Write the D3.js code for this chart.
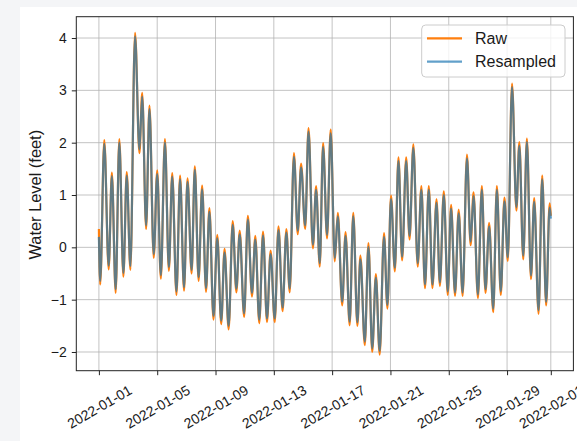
<!DOCTYPE html>
<html><head><meta charset="utf-8">
<script src="https://cdn.jsdelivr.net/npm/d3@7"></script>
<style>
html,body{margin:0;padding:0;background:#f4f5f7;}
svg{display:block;font-family:"Liberation Sans",Arial,Helvetica,sans-serif;}
</style></head><body>
<svg id="chart" width="577" height="441"></svg>
<script>
// ---- data ----
const startDate = "2022-01-01T00:00:00";
// time of each turning point, in days after startDate
const dayOffsets = [
 0.00, 0.09, 0.37, 0.67, 0.89, 1.15, 1.40, 1.68, 1.91, 2.16,
 2.48, 2.78, 2.97, 3.24, 3.47, 3.76, 4.00, 4.25, 4.53, 4.80,
 5.03, 5.32, 5.57, 5.84, 6.08, 6.36, 6.58, 6.84, 7.08, 7.35,
 7.58, 7.86, 8.12, 8.39, 8.62, 8.90, 9.18, 9.43, 9.66, 9.96,
 10.22, 10.50, 10.73, 11.00, 11.26, 11.53, 11.78, 12.06, 12.32, 12.60,
 12.86, 13.09, 13.38, 13.64, 13.87, 14.15, 14.38, 14.68, 14.90, 15.15,
 15.38, 15.65, 15.90, 16.18, 16.39, 16.69, 16.92, 17.20, 17.45, 17.73,
 17.94, 18.24, 18.49, 18.75, 19.00, 19.26, 19.56, 19.79, 20.04, 20.30,
 20.55, 20.80, 21.08, 21.31, 21.57, 21.87, 22.12, 22.37, 22.63, 22.88,
 23.16, 23.39, 23.66, 23.93, 24.16, 24.43, 24.68, 24.95, 25.25, 25.50,
 25.70, 26.00, 26.27, 26.52, 26.77, 27.05, 27.30, 27.57, 27.82, 28.05,
 28.34, 28.64, 28.84, 29.11, 29.36, 29.64, 29.86, 30.16, 30.41, 30.68,
 30.92, 31.00
];
const rawLevels = [
 0.35, -0.71, 2.05, -0.42, 1.43, -0.87, 2.07, -0.56, 1.44, -0.43,
 4.10, 1.80, 2.95, 0.35, 2.71, -0.20, 1.47, -0.60, 2.07, -0.45,
 1.42, -0.91, 1.37, -0.83, 1.32, -0.50, 1.55, -0.64, 1.18, -0.85,
 0.75, -1.38, 0.24, -1.47, -0.03, -1.57, 0.50, -0.86, 0.32, -1.33,
 0.60, -0.94, 0.22, -1.45, 0.30, -1.43, -0.06, -1.43, 0.40, -1.22,
 0.35, -0.86, 1.80, 0.25, 1.60, 0.35, 2.28, -0.02, 1.17, -0.37,
 1.99, 0.17, 2.25, -0.27, 0.66, -1.11, 0.29, -1.49, 0.66, -1.50,
 -0.16, -1.87, 0.08, -2.00, -0.51, -2.05, 0.27, -1.17, 0.99, -0.46,
 1.72, -0.25, 1.72, 0.15, 1.97, -0.37, 1.17, -0.78, 1.17, -0.78,
 0.92, -0.74, 1.07, -0.91, 0.81, -0.93, 0.72, -0.93, 1.77, 0.04,
 1.05, -0.97, 1.17, -0.87, 0.47, -1.24, 1.17, -0.91, 0.95, -0.26,
 3.13, 0.70, 2.01, -0.23, 2.08, -0.61, 0.94, -1.27, 1.37, -1.11,
 0.84, 0.60
];
const resampledLevels = [
 0.20, -0.64, 1.98, -0.35, 1.36, -0.80, 2.00, -0.49, 1.37, -0.36,
 4.03, 1.87, 2.88, 0.42, 2.64, -0.13, 1.40, -0.53, 2.00, -0.38,
 1.35, -0.84, 1.30, -0.76, 1.25, -0.43, 1.48, -0.57, 1.11, -0.78,
 0.68, -1.31, 0.17, -1.40, -0.10, -1.50, 0.43, -0.79, 0.25, -1.26,
 0.53, -0.87, 0.15, -1.38, 0.23, -1.36, -0.13, -1.36, 0.33, -1.15,
 0.28, -0.79, 1.73, 0.32, 1.53, 0.42, 2.21, 0.05, 1.10, -0.30,
 1.92, 0.24, 2.18, -0.20, 0.59, -1.04, 0.22, -1.42, 0.59, -1.43,
 -0.23, -1.80, 0.01, -1.93, -0.58, -1.98, 0.20, -1.10, 0.92, -0.39,
 1.65, -0.18, 1.65, 0.22, 1.90, -0.30, 1.10, -0.71, 1.10, -0.71,
 0.85, -0.67, 1.00, -0.84, 0.74, -0.86, 0.65, -0.86, 1.70, 0.11,
 0.98, -0.90, 1.10, -0.80, 0.40, -1.17, 1.10, -0.84, 0.88, -0.19,
 3.06, 0.77, 1.94, -0.16, 2.01, -0.54, 0.87, -1.20, 1.30, -1.04,
 0.76, 0.55
];
const yTickValues = [-2, -1, 0, 1, 2, 3, 4];
const xTickLabels = ["2022-01-01","2022-01-05","2022-01-09","2022-01-13","2022-01-17",
                     "2022-01-21","2022-01-25","2022-01-29","2022-02-01"];
const seriesNames = ["Raw", "Resampled"];
const seriesColors = ["#ff7f0e", "#1f77b4"];
const seriesOpacity = [1, 0.7];
const yLabel = "Water Level (feet)";

// ---- layout ----
const W = 577, H = 441;
const plot = {left: 76.3, right: 573.4, top: 16.7, bottom: 370.7};
const tickFont = 14;

const svg = d3.select("#chart");
svg.append("rect").attr("width", W).attr("height", H).attr("fill", "#f4f5f7");
svg.append("rect").attr("x", 20).attr("y", 7).attr("width", W - 20).attr("height", H - 7).attr("fill", "#ffffff");

const t0 = d3.timeParse("%Y-%m-%dT%H:%M:%S")(startDate);
const toDate = d => new Date(t0.getTime() + d * 86400000);
const times = dayOffsets.map(toDate);
const raw = times.map((t, i) => ({t, v: rawLevels[i]}));
const res = times.map((t, i) => ({t, v: resampledLevels[i]}));

const tExt = d3.extent(times);
const tPad = (tExt[1] - tExt[0]) * 0.05;
const x = d3.scaleTime()
  .domain([new Date(+tExt[0] - tPad), new Date(+tExt[1] + tPad)])
  .range([plot.left, plot.right]);
const vExt = d3.extent(rawLevels.concat(resampledLevels));
const vPad = (vExt[1] - vExt[0]) * 0.05;
const y = d3.scaleLinear().domain([vExt[0] - vPad, vExt[1] + vPad]).range([plot.bottom, plot.top]);

const xTicks = xTickLabels.map(s => d3.timeParse("%Y-%m-%d")(s));

// grid
const grid = svg.append("g");
grid.selectAll("line.gx").data(xTicks).join("line")
  .attr("x1", d => x(d)).attr("x2", d => x(d))
  .attr("y1", plot.top).attr("y2", plot.bottom)
  .attr("stroke", "#b0b0b0").attr("stroke-width", 1).attr("opacity", 0.75);
grid.selectAll("line.gy").data(yTickValues).join("line")
  .attr("x1", plot.left).attr("x2", plot.right)
  .attr("y1", d => y(d)).attr("y2", d => y(d))
  .attr("stroke", "#b0b0b0").attr("stroke-width", 1).attr("opacity", 0.75);

// lines
svg.append("clipPath").attr("id", "clip").append("rect")
  .attr("x", plot.left).attr("y", plot.top)
  .attr("width", plot.right - plot.left).attr("height", plot.bottom - plot.top);
const line = d3.line().x(d => x(d.t)).y(d => y(d.v)).curve(d3.curveMonotoneX);
const gl = svg.append("g").attr("clip-path", "url(#clip)");
[raw, res].forEach((s, i) => {
  gl.append("path").attr("d", line(s)).attr("fill", "none")
    .attr("stroke", seriesColors[i]).attr("stroke-opacity", seriesOpacity[i])
    .attr("stroke-width", 2.2).attr("stroke-linejoin", "round");
});

// axes
const xAxis = d3.axisBottom(x).tickValues(xTicks).tickFormat(d3.timeFormat("%Y-%m-%d"))
  .tickSize(4.5).tickSizeOuter(0);
const gx = svg.append("g").attr("transform", `translate(0,${plot.bottom})`).call(xAxis);
gx.select(".domain").remove();
gx.selectAll(".tick line").attr("stroke", "#222").attr("stroke-width", 1);
gx.selectAll(".tick text")
  .attr("font-size", tickFont).attr("fill", "#1a1a1a").attr("font-family", null)
  .attr("x", 0).attr("y", 0).attr("dy", "0.36em").attr("text-anchor", "middle")
  .attr("transform", "translate(0,36) rotate(-30)");

const yAxis = d3.axisLeft(y).tickValues(yTickValues).tickFormat(d => d < 0 ? "\u2212" + Math.abs(d) : d)
  .tickSize(4.5).tickSizeOuter(0).tickPadding(5);
const gy = svg.append("g").attr("transform", `translate(${plot.left},0)`).call(yAxis);
gy.select(".domain").remove();
gy.selectAll(".tick line").attr("stroke", "#222").attr("stroke-width", 1);
gy.selectAll(".tick text").attr("font-size", tickFont).attr("fill", "#1a1a1a").attr("font-family", null);

// spines
svg.append("rect").attr("x", plot.left).attr("y", plot.top)
  .attr("width", plot.right - plot.left).attr("height", plot.bottom - plot.top)
  .attr("fill", "none").attr("stroke", "#222").attr("stroke-width", 1);

// y label
svg.append("text").attr("transform", `translate(40.5,${(plot.top + plot.bottom) / 2 + 1}) rotate(-90)`)
  .attr("text-anchor", "middle").attr("font-size", 16.4).attr("fill", "#1a1a1a").text(yLabel);

// legend
const lg = svg.append("g");
lg.append("rect").attr("x", 421.7).attr("y", 25).attr("width", 143.3).attr("height", 52)
  .attr("rx", 4).attr("fill", "#fff").attr("fill-opacity", 0.8)
  .attr("stroke", "#cccccc").attr("stroke-width", 1);
seriesNames.forEach((name, i) => {
  const yy = 38.3 + i * 23.4;
  lg.append("line").attr("x1", 427).attr("x2", 462).attr("y1", yy).attr("y2", yy)
    .attr("stroke", seriesColors[i]).attr("stroke-opacity", seriesOpacity[i]).attr("stroke-width", 2.2);
  lg.append("text").attr("x", 475).attr("y", yy).attr("dy", "0.35em")
    .attr("font-size", 16).attr("fill", "#1a1a1a").text(name);
});
</script>
</body></html>
